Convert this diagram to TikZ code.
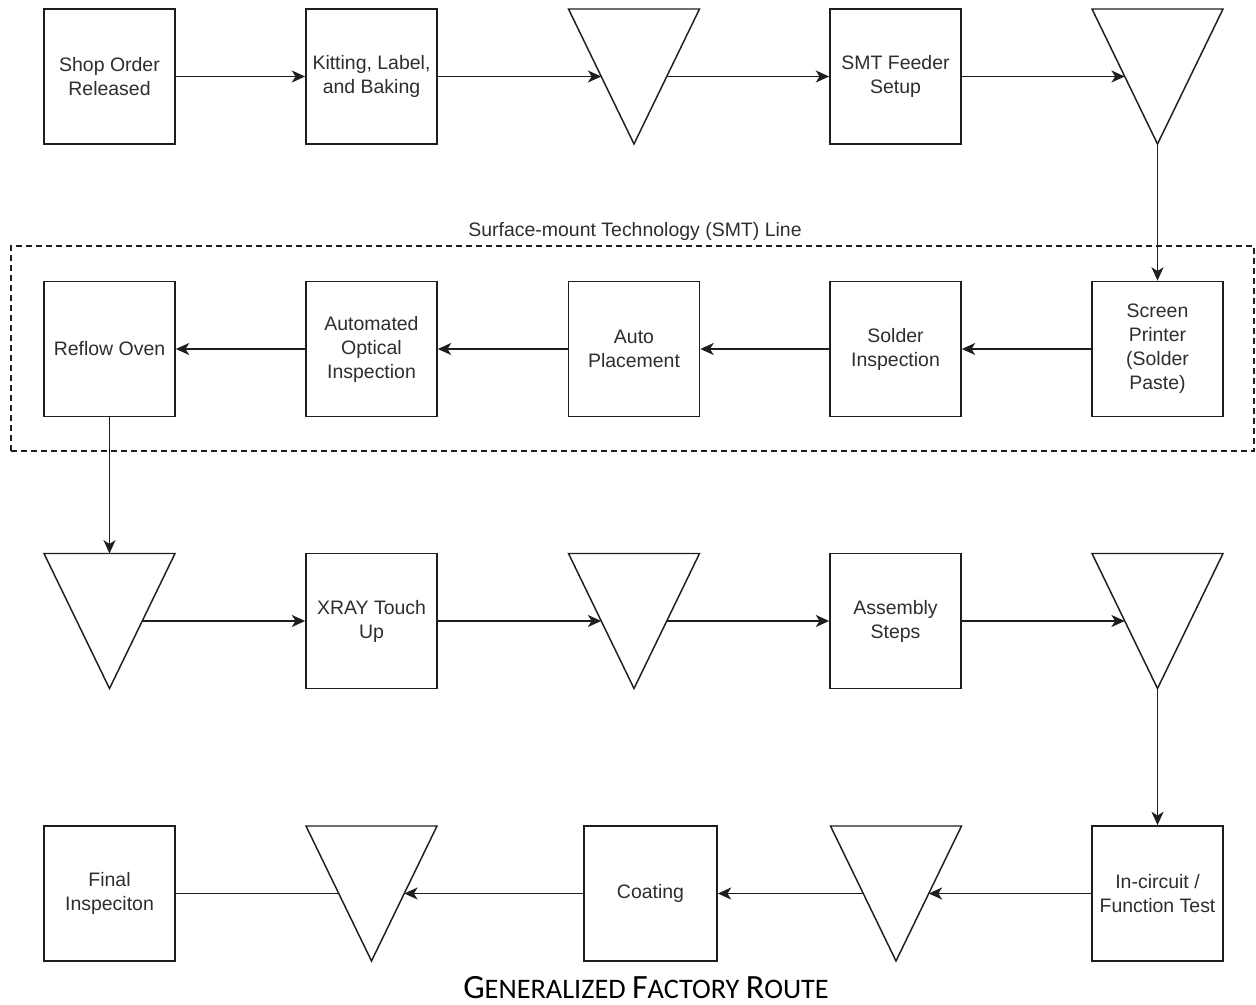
\documentclass[tikz,border=0pt]{standalone}
\usepackage{fontspec}
\setmainfont{Liberation Sans}
\newfontfamily\titlefont{Carlito}
\usetikzlibrary{arrows.meta,calc}
\definecolor{ink}{HTML}{1E1E1E}
\definecolor{txt}{HTML}{2E2E2E}
\newcommand{\tbig}[1]{{\fontsize{25.5pt}{28pt}\selectfont #1}}
\newcommand{\tsml}[1]{{\fontsize{21.2pt}{28pt}\selectfont #1}}
\begin{document}
\begin{tikzpicture}[x=0.75pt,y=-0.75pt,
  stepbox/.style={draw=ink, line width=1.3pt, fill=white, minimum width=98.25pt, minimum height=101.25pt,
    inner sep=0pt, align=center, text=txt, font=\fontsize{14.6pt}{18pt}\selectfont},
  trislot/.style={minimum width=98.25pt, minimum height=101.25pt, inner sep=0pt, outer sep=0pt},
  triline/.style={draw=ink, line width=1.1pt, line join=miter},
  arr/.style={draw=ink, line width=1.3pt, -{Stealth[length=10pt, width=9pt, inset=2.8pt]}},
  plain/.style={draw=ink, line width=1.3pt}]
\useasboundingbox (0,0) rectangle (1256,1005);

% SMT container
\node[draw=ink, dashed, dash pattern=on 4.5pt off 3pt, line width=0.9pt, minimum width=932.25pt, minimum height=153.75pt, inner sep=0pt] (smt) at (632.5,348.5) {};
\node[text=txt, font=\fontsize{14.6pt}{18pt}\selectfont, anchor=base] (smtlabel) at (635,237) {Surface-mount Technology (SMT) Line};

% Row 1
\node[stepbox] (b11) at (109.5,76.5) {Shop Order\\Released};
\node[stepbox] (b12) at (371.5,76.5) {Kitting, Label,\\and Baking};
\node[trislot] (t13) at (634,76.5) {};
\node[stepbox] (b14) at (895.5,76.5) {SMT Feeder\\Setup};
\node[trislot] (t15) at (1157.5,76.5) {};

% Row 2
\node[stepbox] (b21) at (109.5,349) {Reflow Oven};
\node[stepbox] (b22) at (371.5,349) {Automated\\Optical\\Inspection};
\node[stepbox] (b23) at (634,349) {Auto\\Placement};
\node[stepbox] (b24) at (895.5,349) {Solder\\Inspection};
\node[stepbox] (b25) at (1157.5,349) {Screen\\Printer\\(Solder\\Paste)};

% Row 3
\node[trislot] (t31) at (109.5,621) {};
\node[stepbox] (b32) at (371.5,621) {XRAY Touch\\Up};
\node[trislot] (t33) at (634,621) {};
\node[stepbox] (b34) at (895.5,621) {Assembly\\Steps};
\node[trislot] (t35) at (1157.5,621) {};

% Row 4
\node[stepbox] (b41) at (109.5,893.5) {Final\\Inspeciton};
\node[trislot] (t42) at (371.5,893.5) {};
\node[stepbox, minimum width=99.75pt] (b43) at (650.5,893.5) {Coating};
\node[trislot] (t44) at (896,893.5) {};
\node[stepbox] (b45) at (1157.5,893.5) {In-circuit /\\Function Test};

% triangles (inventory buffers)
\foreach \t in {t13,t15,t31,t33,t35,t42,t44}{
  \draw[triline] (\t.north west) -- (\t.north east) -- (\t.south) -- cycle;
  \coordinate (\t-l) at ($(\t.north west)!0.5!(\t.south)$);
  \coordinate (\t-r) at ($(\t.north east)!0.5!(\t.south)$);
}

% Row 1 connectors
\draw[arr] (b11) -- (b12);
\draw[arr] (b12.east) -- (t13-l);
\draw[arr] (t13-r) -- (b14.west);
\draw[arr] (b14.east) -- (t15-l);
\draw[arr] (t15.south) -- (b25.north);

% Row 2 connectors
\draw[arr] (b25) -- (b24);
\draw[arr] (b24) -- (b23);
\draw[arr] (b23) -- (b22);
\draw[arr] (b22) -- (b21);
\draw[arr] (b21.south) -- (t31.north);

% Row 3 connectors
\draw[arr] (t31-r) -- (b32.west);
\draw[arr] (b32.east) -- (t33-l);
\draw[arr] (t33-r) -- (b34.west);
\draw[arr] (b34.east) -- (t35-l);
\draw[arr] (t35.south) -- (b45.north);

% Row 4 connectors
\draw[arr] (b45.west) -- (t44-r);
\draw[arr] (t44-l) -- (b43.east);
\draw[arr] (b43.west) -- (t42-r);
\draw[plain] (t42-l) -- (b41.east);

% Title
\node[anchor=base, inner sep=0pt] (title) at (646,998) {\titlefont\tbig{G}\tsml{ENERALIZED }\tbig{F}\tsml{ACTORY }\tbig{R}\tsml{OUTE}};
\end{tikzpicture}
\end{document}
